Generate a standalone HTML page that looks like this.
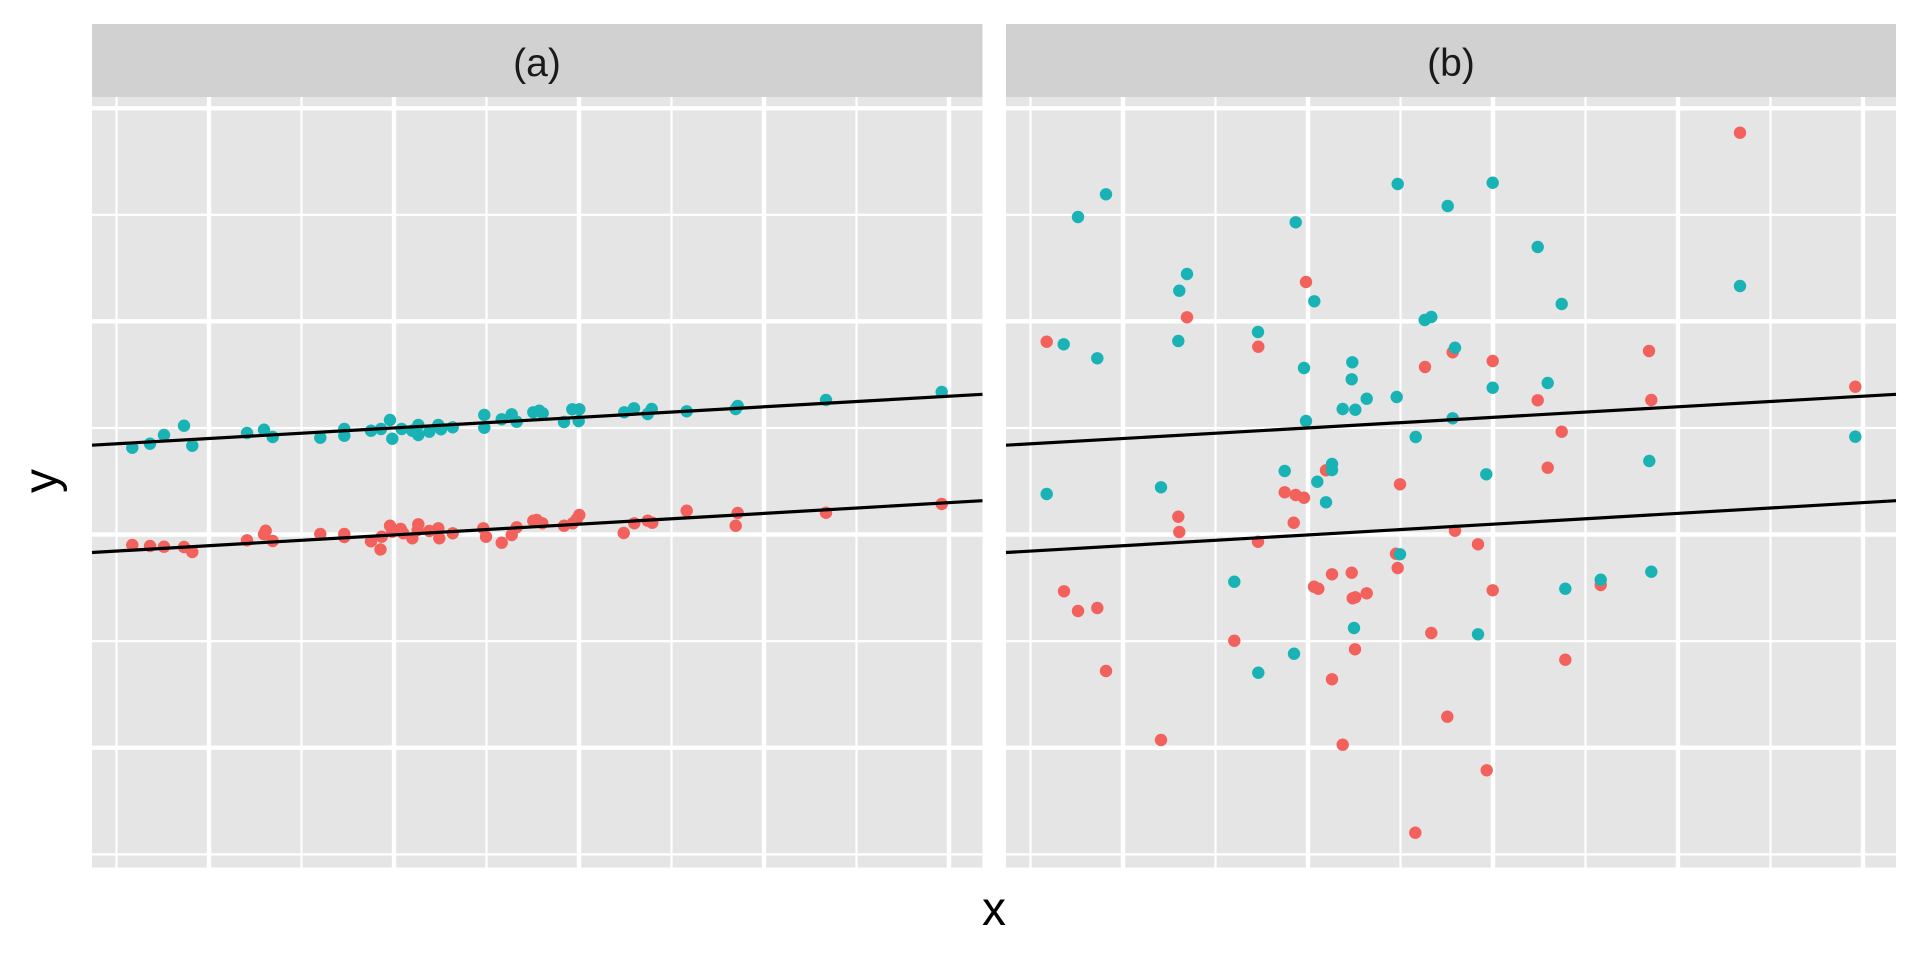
<!DOCTYPE html>
<html>
<head>
<meta charset="utf-8">
<style>
html,body{margin:0;padding:0;background:#ffffff;}
svg{display:block;}
</style>
</head>
<body>
<svg width="1920" height="960" viewBox="0 0 1920 960" xmlns="http://www.w3.org/2000/svg">
<rect x="0" y="0" width="1920" height="960" fill="#ffffff"/>

<!-- Panel (a) -->
<rect x="92" y="24" width="890.5" height="73" fill="#D1D1D1"/>
<text x="537" y="76" font-family="Liberation Sans, Arial, sans-serif" font-size="39" fill="#1A1A1A" text-anchor="middle">(a)</text>
<rect x="92" y="97" width="890.5" height="770.5" fill="#E5E5E5"/>
<g stroke="#ffffff" stroke-width="2.2">
<line x1="116.5" y1="97" x2="116.5" y2="867.5"/>
<line x1="301.5" y1="97" x2="301.5" y2="867.5"/>
<line x1="486.5" y1="97" x2="486.5" y2="867.5"/>
<line x1="671.5" y1="97" x2="671.5" y2="867.5"/>
<line x1="856.5" y1="97" x2="856.5" y2="867.5"/>
<line x1="92" y1="214.8" x2="982.5" y2="214.8"/>
<line x1="92" y1="428" x2="982.5" y2="428"/>
<line x1="92" y1="641.2" x2="982.5" y2="641.2"/>
<line x1="92" y1="854.4" x2="982.5" y2="854.4"/>
</g>
<g stroke="#ffffff" stroke-width="4.4">
<line x1="209" y1="97" x2="209" y2="867.5"/>
<line x1="394" y1="97" x2="394" y2="867.5"/>
<line x1="579" y1="97" x2="579" y2="867.5"/>
<line x1="764" y1="97" x2="764" y2="867.5"/>
<line x1="949" y1="97" x2="949" y2="867.5"/>
<line x1="92" y1="108.3" x2="982.5" y2="108.3"/>
<line x1="92" y1="321.3" x2="982.5" y2="321.3"/>
<line x1="92" y1="534.5" x2="982.5" y2="534.5"/>
<line x1="92" y1="747.7" x2="982.5" y2="747.7"/>
</g>
<g fill="#F2615C">
<circle cx="132.3" cy="545" r="6.2"/><circle cx="150" cy="546" r="6.2"/><circle cx="164" cy="546.7" r="6.2"/>
<circle cx="184" cy="547" r="6.2"/><circle cx="192.3" cy="552" r="6.2"/><circle cx="247" cy="540.3" r="6.2"/>
<circle cx="265.7" cy="530.7" r="6.2"/><circle cx="264" cy="534.3" r="6.2"/><circle cx="272.7" cy="541" r="6.2"/>
<circle cx="320.3" cy="534" r="6.2"/><circle cx="344.3" cy="534" r="6.2"/><circle cx="344.3" cy="537" r="6.2"/>
<circle cx="371" cy="541.3" r="6.2"/><circle cx="381.7" cy="536.7" r="6.2"/><circle cx="380.5" cy="549.5" r="6.2"/>
<circle cx="390" cy="525.7" r="6.2"/><circle cx="392.3" cy="531.7" r="6.2"/><circle cx="400.7" cy="529" r="6.2"/>
<circle cx="403.3" cy="533.3" r="6.2"/><circle cx="412.3" cy="538.3" r="6.2"/><circle cx="418.3" cy="524.3" r="6.2"/>
<circle cx="417.7" cy="530" r="6.2"/><circle cx="429.3" cy="531" r="6.2"/><circle cx="438.3" cy="528.3" r="6.2"/>
<circle cx="439.3" cy="538.3" r="6.2"/><circle cx="452.7" cy="533.3" r="6.2"/><circle cx="483.3" cy="528.3" r="6.2"/>
<circle cx="486" cy="536.7" r="6.2"/><circle cx="501.7" cy="542.7" r="6.2"/><circle cx="511.7" cy="535" r="6.2"/>
<circle cx="516.7" cy="527.3" r="6.2"/><circle cx="533.3" cy="520.7" r="6.2"/><circle cx="536.7" cy="520" r="6.2"/>
<circle cx="542.3" cy="523.3" r="6.2"/><circle cx="564" cy="525.7" r="6.2"/><circle cx="572.7" cy="523.3" r="6.2"/>
<circle cx="579.3" cy="515" r="6.2"/><circle cx="576.7" cy="519.3" r="6.2"/><circle cx="623.7" cy="533" r="6.2"/>
<circle cx="634.3" cy="523.3" r="6.2"/><circle cx="647.7" cy="520.7" r="6.2"/><circle cx="652.3" cy="522.7" r="6.2"/>
<circle cx="686.7" cy="510.7" r="6.2"/><circle cx="737.7" cy="513" r="6.2"/><circle cx="735.7" cy="525.7" r="6.2"/>
<circle cx="826" cy="512.7" r="6.2"/><circle cx="941.7" cy="504" r="6.2"/>
</g>
<g fill="#19B3B6">
<circle cx="132.3" cy="447.7" r="6.2"/><circle cx="150" cy="443.7" r="6.2"/><circle cx="164" cy="435" r="6.2"/>
<circle cx="184" cy="425.7" r="6.2"/><circle cx="192.3" cy="445.7" r="6.2"/><circle cx="247" cy="433" r="6.2"/>
<circle cx="264" cy="429.7" r="6.2"/><circle cx="272.7" cy="437" r="6.2"/><circle cx="320.3" cy="437.7" r="6.2"/>
<circle cx="344.3" cy="429" r="6.2"/><circle cx="344.3" cy="435.7" r="6.2"/><circle cx="371" cy="430.7" r="6.2"/>
<circle cx="381" cy="429" r="6.2"/><circle cx="390" cy="420" r="6.2"/><circle cx="392.3" cy="438.7" r="6.2"/>
<circle cx="401.7" cy="429" r="6.2"/><circle cx="412.3" cy="430.7" r="6.2"/><circle cx="418.3" cy="425" r="6.2"/>
<circle cx="418.3" cy="435" r="6.2"/><circle cx="429.3" cy="431.7" r="6.2"/><circle cx="438.3" cy="425" r="6.2"/>
<circle cx="441" cy="429.3" r="6.2"/><circle cx="452.7" cy="427.3" r="6.2"/><circle cx="484.3" cy="415" r="6.2"/>
<circle cx="484.3" cy="427.7" r="6.2"/><circle cx="501.7" cy="419.3" r="6.2"/><circle cx="511.7" cy="414.3" r="6.2"/>
<circle cx="516.7" cy="421.7" r="6.2"/><circle cx="533.3" cy="412.3" r="6.2"/><circle cx="539.3" cy="410.7" r="6.2"/>
<circle cx="542.7" cy="413.3" r="6.2"/><circle cx="564" cy="422" r="6.2"/><circle cx="572.3" cy="409.3" r="6.2"/>
<circle cx="579.3" cy="409.3" r="6.2"/><circle cx="578.7" cy="421" r="6.2"/><circle cx="624.3" cy="412.3" r="6.2"/>
<circle cx="634" cy="408.3" r="6.2"/><circle cx="647.7" cy="414" r="6.2"/><circle cx="651.7" cy="409" r="6.2"/>
<circle cx="686.7" cy="411.3" r="6.2"/><circle cx="735.7" cy="409" r="6.2"/><circle cx="737.7" cy="406" r="6.2"/>
<circle cx="826" cy="400" r="6.2"/><circle cx="941.7" cy="392" r="6.2"/>
</g>
<g stroke="#000000" stroke-width="3.2">
<line x1="92" y1="445.2" x2="982.5" y2="394.3"/>
<line x1="92" y1="552.5" x2="982.5" y2="500.7"/>
</g>

<!-- Panel (b) -->
<rect x="1006" y="24" width="890" height="73" fill="#D1D1D1"/>
<text x="1451" y="76" font-family="Liberation Sans, Arial, sans-serif" font-size="39" fill="#1A1A1A" text-anchor="middle">(b)</text>
<rect x="1006" y="97" width="890" height="770.5" fill="#E5E5E5"/>
<g stroke="#ffffff" stroke-width="2.2">
<line x1="1030.5" y1="97" x2="1030.5" y2="867.5"/>
<line x1="1215.5" y1="97" x2="1215.5" y2="867.5"/>
<line x1="1400.5" y1="97" x2="1400.5" y2="867.5"/>
<line x1="1585.5" y1="97" x2="1585.5" y2="867.5"/>
<line x1="1770.5" y1="97" x2="1770.5" y2="867.5"/>
<line x1="1006" y1="214.8" x2="1896" y2="214.8"/>
<line x1="1006" y1="428" x2="1896" y2="428"/>
<line x1="1006" y1="641.2" x2="1896" y2="641.2"/>
<line x1="1006" y1="854.4" x2="1896" y2="854.4"/>
</g>
<g stroke="#ffffff" stroke-width="4.4">
<line x1="1123" y1="97" x2="1123" y2="867.5"/>
<line x1="1308" y1="97" x2="1308" y2="867.5"/>
<line x1="1493" y1="97" x2="1493" y2="867.5"/>
<line x1="1678" y1="97" x2="1678" y2="867.5"/>
<line x1="1863" y1="97" x2="1863" y2="867.5"/>
<line x1="1006" y1="108.3" x2="1896" y2="108.3"/>
<line x1="1006" y1="321.3" x2="1896" y2="321.3"/>
<line x1="1006" y1="534.5" x2="1896" y2="534.5"/>
<line x1="1006" y1="747.7" x2="1896" y2="747.7"/>
</g>
<g fill="#F2615C">
<circle cx="1046.7" cy="341.7" r="6.2"/><circle cx="1064" cy="591.3" r="6.2"/><circle cx="1078" cy="611" r="6.2"/>
<circle cx="1097.3" cy="608" r="6.2"/><circle cx="1106" cy="671" r="6.2"/><circle cx="1161" cy="740" r="6.2"/>
<circle cx="1178.3" cy="516.7" r="6.2"/><circle cx="1179.3" cy="532" r="6.2"/><circle cx="1187" cy="317.3" r="6.2"/>
<circle cx="1234.3" cy="640.7" r="6.2"/><circle cx="1258.3" cy="346.7" r="6.2"/><circle cx="1258" cy="541.7" r="6.2"/>
<circle cx="1284.7" cy="492.3" r="6.2"/><circle cx="1295.7" cy="495" r="6.2"/><circle cx="1304" cy="497.7" r="6.2"/>
<circle cx="1293.7" cy="522.7" r="6.2"/><circle cx="1306" cy="282" r="6.2"/><circle cx="1314" cy="586.7" r="6.2"/>
<circle cx="1318.3" cy="588.7" r="6.2"/><circle cx="1326" cy="470.3" r="6.2"/><circle cx="1332" cy="574.3" r="6.2"/>
<circle cx="1332" cy="679.3" r="6.2"/><circle cx="1342.7" cy="744.7" r="6.2"/><circle cx="1351.7" cy="572.7" r="6.2"/>
<circle cx="1352.7" cy="598.3" r="6.2"/><circle cx="1355.3" cy="597.3" r="6.2"/><circle cx="1355" cy="649.3" r="6.2"/>
<circle cx="1366.7" cy="593.3" r="6.2"/><circle cx="1396" cy="553.7" r="6.2"/><circle cx="1397.7" cy="568" r="6.2"/>
<circle cx="1400" cy="484.3" r="6.2"/><circle cx="1415.3" cy="832.7" r="6.2"/><circle cx="1425" cy="367" r="6.2"/>
<circle cx="1431.3" cy="633" r="6.2"/><circle cx="1447.3" cy="716.7" r="6.2"/><circle cx="1452.7" cy="352.3" r="6.2"/>
<circle cx="1455" cy="530.7" r="6.2"/><circle cx="1478" cy="544.3" r="6.2"/><circle cx="1486.7" cy="770.3" r="6.2"/>
<circle cx="1492.7" cy="361" r="6.2"/><circle cx="1492.7" cy="590.3" r="6.2"/><circle cx="1537.7" cy="400.3" r="6.2"/>
<circle cx="1547.7" cy="467.7" r="6.2"/><circle cx="1561.7" cy="431.7" r="6.2"/><circle cx="1565.3" cy="659.7" r="6.2"/>
<circle cx="1600.7" cy="585" r="6.2"/><circle cx="1649" cy="351" r="6.2"/><circle cx="1651.3" cy="400" r="6.2"/>
<circle cx="1740" cy="132.7" r="6.2"/><circle cx="1855.3" cy="386.7" r="6.2"/>
</g>
<g fill="#19B3B6">
<circle cx="1046.7" cy="494" r="6.2"/><circle cx="1063.7" cy="344.3" r="6.2"/><circle cx="1078" cy="217" r="6.2"/>
<circle cx="1097.3" cy="358.3" r="6.2"/><circle cx="1106" cy="194.3" r="6.2"/><circle cx="1161" cy="487.3" r="6.2"/>
<circle cx="1178.3" cy="341" r="6.2"/><circle cx="1179.3" cy="290.7" r="6.2"/><circle cx="1187" cy="274" r="6.2"/>
<circle cx="1234.3" cy="581.7" r="6.2"/><circle cx="1258" cy="332" r="6.2"/><circle cx="1258.3" cy="672.7" r="6.2"/>
<circle cx="1284.7" cy="471" r="6.2"/><circle cx="1295.7" cy="222.3" r="6.2"/><circle cx="1294" cy="653.7" r="6.2"/>
<circle cx="1304" cy="368" r="6.2"/><circle cx="1306" cy="421" r="6.2"/><circle cx="1314.3" cy="301.3" r="6.2"/>
<circle cx="1317.3" cy="481.7" r="6.2"/><circle cx="1326" cy="502.3" r="6.2"/><circle cx="1332" cy="464" r="6.2"/>
<circle cx="1332" cy="470" r="6.2"/><circle cx="1342.7" cy="409" r="6.2"/><circle cx="1355.3" cy="409.7" r="6.2"/>
<circle cx="1352.3" cy="362.3" r="6.2"/><circle cx="1351.7" cy="379.3" r="6.2"/><circle cx="1354" cy="628" r="6.2"/>
<circle cx="1366.7" cy="398.7" r="6.2"/><circle cx="1397.7" cy="184" r="6.2"/><circle cx="1396.7" cy="397" r="6.2"/>
<circle cx="1400" cy="554.3" r="6.2"/><circle cx="1415.7" cy="437" r="6.2"/><circle cx="1424.7" cy="320" r="6.2"/>
<circle cx="1431.3" cy="317" r="6.2"/><circle cx="1447.7" cy="206" r="6.2"/><circle cx="1455" cy="347.7" r="6.2"/>
<circle cx="1452.7" cy="418.3" r="6.2"/><circle cx="1478" cy="634.3" r="6.2"/><circle cx="1486.3" cy="474.3" r="6.2"/>
<circle cx="1492.7" cy="387.7" r="6.2"/><circle cx="1492.7" cy="182.7" r="6.2"/><circle cx="1537.7" cy="247" r="6.2"/>
<circle cx="1547.7" cy="383" r="6.2"/><circle cx="1561.7" cy="304" r="6.2"/><circle cx="1565.3" cy="588.7" r="6.2"/>
<circle cx="1600.7" cy="579.7" r="6.2"/><circle cx="1649.3" cy="461" r="6.2"/><circle cx="1651.3" cy="571.7" r="6.2"/>
<circle cx="1740" cy="286" r="6.2"/><circle cx="1855.3" cy="436.7" r="6.2"/>
</g>
<g stroke="#000000" stroke-width="3.2">
<line x1="1006" y1="445.2" x2="1896" y2="394.3"/>
<line x1="1006" y1="552.5" x2="1896" y2="500.7"/>
</g>

<!-- Axis titles -->
<text x="994" y="925" font-family="Liberation Sans, Arial, sans-serif" font-size="48" fill="#000000" text-anchor="middle">x</text>
<text x="0" y="0" transform="translate(57,481) rotate(-90)" font-family="Liberation Sans, Arial, sans-serif" font-size="48" fill="#000000" text-anchor="middle">y</text>
</svg>
</body>
</html>
